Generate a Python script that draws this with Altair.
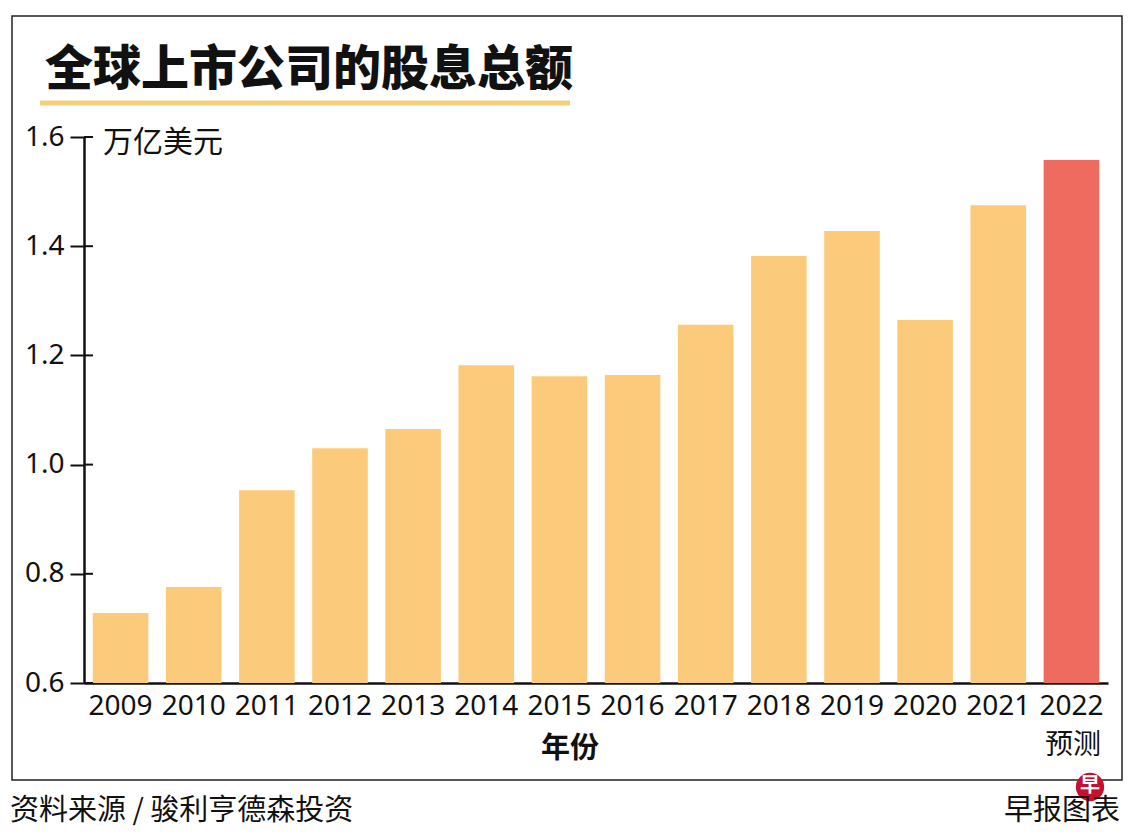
import altair as alt
import pandas as pd

years = ["2009", "2010", "2011", "2012", "2013", "2014", "2015", "2016",
         "2017", "2018", "2019", "2020", "2021", "2022"]
values = [0.728, 0.776, 0.953, 1.030, 1.065, 1.182, 1.162, 1.164,
          1.256, 1.382, 1.428, 1.265, 1.475, 1.558]
kinds = ["实际"] * 13 + ["预测"]
y_ticks = [0.6, 0.8, 1.0, 1.2, 1.4, 1.6]

title_text = "全球上市公司的股息总额"
unit_text = "万亿美元"
xtitle_text = "年份"
forecast_text = "预测"
source_text = "资料来源 / 骏利亨德森投资"
brand_text = "早报图表"
logo_text = "早"

CJK = "Noto Sans CJK SC"
NUM = "Noto Sans"
W, H = 1024, 546

df = pd.DataFrame({"year": years, "value": values, "kind": kinds})
ticks_df = pd.DataFrame({"t": y_ticks})
one = pd.DataFrame({"a": [0]})

x_enc = alt.X("year:N", sort=years,
              scale=alt.Scale(paddingInner=0.24, paddingOuter=0.12),
              axis=alt.Axis(title=None, labelAngle=0, ticks=False, domainColor="#111",
                            domainWidth=2.5, labelFont=NUM, labelFontSize=28,
                            labelColor="#111", labelPadding=9, grid=False))
y_scale = alt.Scale(domain=[0.6, 1.6], zero=False)
y_axis = alt.Axis(title=None, values=y_ticks, format=".1f", grid=False,
                  tickSize=14, tickWidth=2, tickColor="#111",
                  domainColor="#111", domainWidth=2.5,
                  labelFont=NUM, labelFontSize=28, labelColor="#111",
                  labelPadding=6)

bars = alt.Chart(df).mark_bar(clip=True).encode(
    x=x_enc,
    y=alt.Y("value:Q", scale=y_scale, axis=y_axis),
    y2=alt.datum(0.6),
    color=alt.Color("kind:N", scale=alt.Scale(domain=["实际", "预测"],
                                              range=["#FBCB7B", "#EF6B5F"]),
                    legend=None),
)

inner_ticks = alt.Chart(ticks_df).mark_rule(color="#111", strokeWidth=2).encode(
    y=alt.Y("t:Q", scale=y_scale, axis=y_axis),
    x=alt.value(0), x2=alt.value(9),
)

def txt(text, x, y, size, font=CJK, weight="normal", align="left", color="#111"):
    return alt.Chart(one).mark_text(text=text, font=font, fontSize=size,
                                    fontWeight=weight, align=align,
                                    baseline="middle", color=color).encode(
        x=alt.value(x), y=alt.value(y))

frame = alt.Chart(one).mark_rect(fill=None, stroke="#222", strokeWidth=1.5).encode(
    x=alt.value(-72), x2=alt.value(1038), y=alt.value(-121), y2=alt.value(643))

underline = alt.Chart(one).mark_rule(color="#F6CF7C", strokeWidth=5).encode(
    x=alt.value(-44), x2=alt.value(486), y=alt.value(-34))

logo = alt.Chart(one).mark_point(filled=True, shape="circle", size=800,
                                 color="#C8102E", opacity=1).encode(
    x=alt.value(1006), y=alt.value(650))

chart = alt.layer(
    frame,
    bars,
    inner_ticks,
    underline,
    txt(title_text, -39, -66, 48, weight=900),
    txt(unit_text, 19, 6, 30),
    txt(xtitle_text, 486, 612, 29, weight="bold", align="center"),
    txt(forecast_text, 989, 609, 28, align="center"),
    txt(source_text, -74, 674, 29),
    logo,
    txt(logo_text, 1006, 649, 20, weight="bold", align="center", color="white"),
    txt(brand_text, 1036, 674, 29, align="right"),
).properties(
    width=W, height=H,
    background="white",
    autosize=alt.AutoSizeParams(type="none"),
    padding={"left": 76, "top": 129, "right": 24, "bottom": 150},
).configure_view(stroke=None, strokeWidth=0).configure_axis(grid=False)

chart.save("out.html", embed_options={"renderer": "svg", "actions": False})
